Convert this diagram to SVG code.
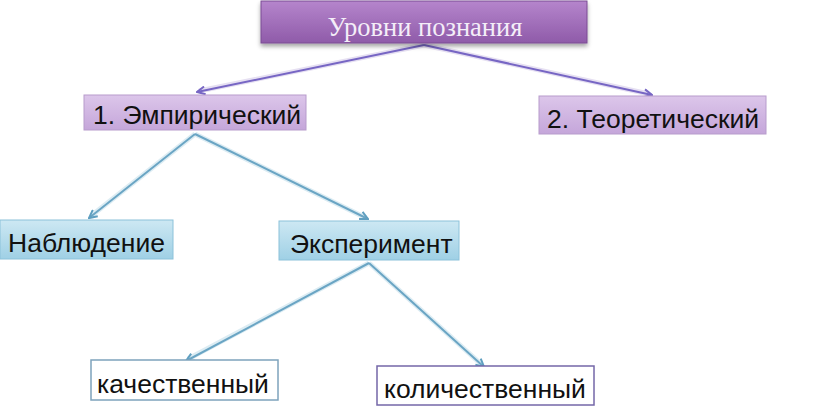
<svg xmlns="http://www.w3.org/2000/svg" width="816" height="409" viewBox="0 0 816 409">
<defs>
<linearGradient id="gTop" x1="0" y1="0" x2="0" y2="1">
<stop offset="0" stop-color="#b585cc"/>
<stop offset="1" stop-color="#8f5ba9"/>
</linearGradient>
<linearGradient id="gLilac" x1="0" y1="0" x2="0" y2="1">
<stop offset="0" stop-color="#dcc6ea"/>
<stop offset="1" stop-color="#c5a6da"/>
</linearGradient>
<linearGradient id="gBlue" x1="0" y1="0" x2="0" y2="1">
<stop offset="0" stop-color="#cde8f3"/>
<stop offset="1" stop-color="#9fd0e5"/>
</linearGradient>
<filter id="sh" x="-10%" y="-20%" width="120%" height="160%">
<feDropShadow dx="0" dy="3" stdDeviation="2" flood-color="#000" flood-opacity="0.35"/>
</filter>
<marker id="aP" viewBox="0 0 10 10" refX="9" refY="5" markerWidth="5" markerHeight="5" orient="auto">
<path d="M1,1 L9,5 L1,9" fill="none" stroke="#7766c4" stroke-width="2"/>
</marker>
<marker id="aC" viewBox="0 0 10 10" refX="9" refY="5" markerWidth="5" markerHeight="5" orient="auto">
<path d="M1,1 L9,5 L1,9" fill="none" stroke="#5f9fc0" stroke-width="2"/>
</marker>
</defs>
<style>
.lbl{font-family:"Liberation Sans",Arial,sans-serif;font-size:26.5px;fill:#111}
.halo{fill:none;stroke:#e6e0f2;stroke-width:5}
.haloC{fill:none;stroke:#dcecf3;stroke-width:5}
.p{fill:none;stroke:#7766c4;stroke-width:2;marker-end:url(#aP)}
.c{fill:none;stroke:#6aa5c4;stroke-width:2;marker-end:url(#aC)}
</style>
<rect width="816" height="409" fill="#fff"/>
<g id="connectors">
<line class="halo" x1="424" y1="45" x2="199" y2="91"/>
<line class="halo" x1="424" y1="45" x2="649" y2="94"/>
<line class="p" x1="424" y1="45" x2="197" y2="92"/>
<line class="p" x1="424" y1="45" x2="652" y2="95"/>
<line class="haloC" x1="195" y1="134" x2="91" y2="216"/>
<line class="haloC" x1="195" y1="134" x2="366" y2="218"/>
<line class="c" x1="195" y1="134" x2="89" y2="218"/>
<line class="c" x1="195" y1="134" x2="368" y2="219"/>
<line class="haloC" x1="369" y1="263" x2="188" y2="359"/>
<line class="haloC" x1="369" y1="263" x2="482" y2="365"/>
<line class="c" x1="369" y1="263" x2="186" y2="361"/>
<line class="c" x1="369" y1="263" x2="484" y2="367"/>
</g>
<g id="n-levels">
<rect x="261" y="1" width="326" height="42" fill="url(#gTop)" stroke="#7a4c93" stroke-width="1" filter="url(#sh)"/>
<text x="425" y="36" text-anchor="middle" font-family="Liberation Serif,'Times New Roman',serif" font-size="26.5" fill="#f4eef8">Уровни познания</text>
</g>
<g id="n-empirical">
<rect x="84" y="95" width="222" height="35" fill="url(#gLilac)" stroke="#b79ccc" stroke-width="1"/>
<text class="lbl" x="93" y="124">1. Эмпирический</text>
</g>
<g id="n-theoretical">
<rect x="539" y="96" width="227" height="38" fill="url(#gLilac)" stroke="#b79ccc" stroke-width="1"/>
<text class="lbl" x="547" y="128">2. Теоретический</text>
</g>
<g id="n-observation">
<rect x="0" y="220" width="173" height="39" fill="url(#gBlue)" stroke="#8cc2da" stroke-width="1"/>
<text class="lbl" x="8" y="252">Наблюдение</text>
</g>
<g id="n-experiment">
<rect x="279" y="221" width="180" height="39" fill="url(#gBlue)" stroke="#8cc2da" stroke-width="1"/>
<text class="lbl" x="290" y="253">Эксперимент</text>
</g>
<g id="n-qualitative">
<rect x="91" y="360" width="187" height="40" fill="#fff" stroke="#7ea3bc" stroke-width="1.5"/>
<text class="lbl" x="97" y="393">качественный</text>
</g>
<g id="n-quantitative">
<rect x="377" y="366" width="217" height="39" fill="#fff" stroke="#7467a8" stroke-width="1.5"/>
<text class="lbl" x="384" y="398">количественный</text>
</g>
</svg>
